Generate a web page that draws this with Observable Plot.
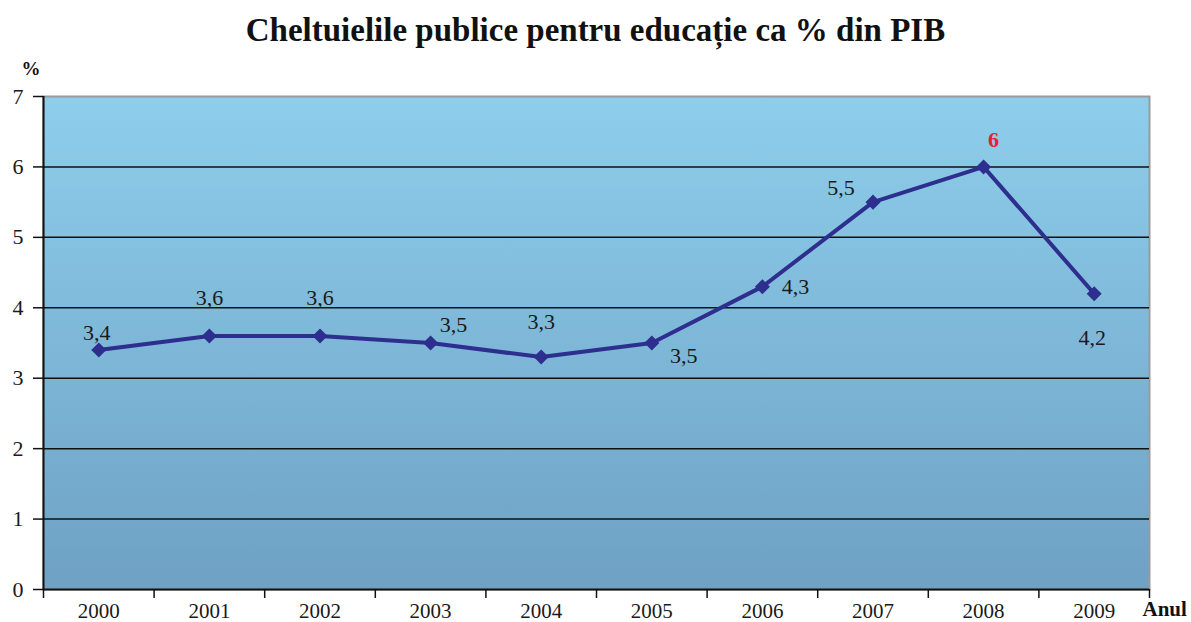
<!DOCTYPE html>
<html>
<head>
<meta charset="utf-8">
<script src="https://cdn.jsdelivr.net/npm/d3@7"></script>
<script src="https://cdn.jsdelivr.net/npm/@observablehq/plot@0.6"></script>
<style>
  html, body { margin: 0; padding: 0; background: #fff; }
  #title { height: 56px; line-height: 60px; text-align: center; font-family: "Liberation Serif", serif; font-weight: bold; font-size: 33px; color: #111; }
</style>
</head>
<body>
<div id="title">Cheltuielile publice pentru educație ca % din PIB</div>
<div id="chart"></div>
<script>
const years = [2000, 2001, 2002, 2003, 2004, 2005, 2006, 2007, 2008, 2009];
const values = [3.4, 3.6, 3.6, 3.5, 3.3, 3.5, 4.3, 5.5, 6.0, 4.2];
const valueLabels = ["3,4", "3,6", "3,6", "3,5", "3,3", "3,5", "4,3", "5,5", "6", "4,2"];
const yTicks = [0, 1, 2, 3, 4, 5, 6, 7];
const gridValues = [1, 2, 3, 4, 5, 6];

const data = years.map((year, i) => ({year, value: values[i], label: valueLabels[i]}));

// label placement (layout, not data)
const labelOffset = {
  2000: [-2, -17], 2001: [0, -38], 2002: [0, -38], 2003: [23, -18], 2004: [0, -35],
  2005: [32, 13], 2006: [33, 0], 2007: [-32, -14], 2008: [10, -27], 2009: [-2, 44]
};
const highlightYear = 2008;

const lineColor = "#2E2E8F";
const fontFamily = "'Liberation Serif', serif";

const xMin = years[0] - 0.5, xMax = years[years.length - 1] + 0.5;
const boundaries = d3.range(years.length + 1).map(i => xMin + i);

const gradientDefs = () => {
  const defs = d3.create("svg:defs");
  const g = defs.append("linearGradient").attr("id", "bgGrad").attr("x1", 0).attr("y1", 0).attr("x2", 0).attr("y2", 1);
  g.append("stop").attr("offset", "0%").attr("stop-color", "#8ECEEB");
  g.append("stop").attr("offset", "100%").attr("stop-color", "#6EA1C4");
  return defs.node();
};

const labelMarks = years.map(y => Plot.text(data.filter(d => d.year === y), {
  x: "year", y: "value", text: "label",
  dx: labelOffset[y][0], dy: labelOffset[y][1],
  fontSize: 22,
  fontWeight: y === highlightYear ? "bold" : "normal",
  fill: y === highlightYear ? "#E8212B" : "#1a1a1a",
  fontFamily
}));

const chart = Plot.plot({
  width: 1191,
  height: 566,
  marginTop: 40,
  marginBottom: 33,
  marginLeft: 43,
  marginRight: 42,
  style: {fontFamily, fontSize: "21px", color: "#1a1a1a", background: "transparent", overflow: "visible"},
  x: {type: "linear", domain: [xMin, xMax], axis: null, label: null},
  y: {domain: [0, 7], axis: null, label: null},
  marks: [
    gradientDefs,
    Plot.frame({fill: "url(#bgGrad)", stroke: "#9a9a9a", strokeWidth: 2}),
    Plot.ruleY(gridValues, {stroke: "#111", strokeWidth: 1.5}),
    Plot.ruleY([0], {stroke: "#111", strokeWidth: 2}),
    Plot.ruleX([xMin], {stroke: "#111", strokeWidth: 2}),
    Plot.axisY({ticks: yTicks, label: null, tickSize: 10, tickPadding: 10, tickFormat: d => String(d), fontSize: 22, stroke: "#111", strokeWidth: 1.5}),
    Plot.axisX({ticks: boundaries, label: null, tickSize: 9, tickFormat: () => "", stroke: "#111", strokeWidth: 1.5}),
    Plot.axisX({ticks: years, label: null, tickSize: 0, tickPadding: 14, tickFormat: d => String(d), fontSize: 21}),
    Plot.lineY(data, {x: "year", y: "value", stroke: lineColor, strokeWidth: 4}),
    Plot.dot(data, {x: "year", y: "value", symbol: "square", r: 6, rotate: 45, fill: lineColor, stroke: "none"}),
    ...labelMarks,
    Plot.text(["Anul"], {frameAnchor: "bottom-right", textAnchor: "start", dx: -7, dy: 26, fontWeight: "bold", fontSize: 21, fill: "#111", fontFamily}),
    Plot.text(["%"], {frameAnchor: "top-left", dx: -22, dy: -35, fontWeight: "bold", fontSize: 19, fill: "#111", fontFamily})
  ]
});
document.getElementById("chart").appendChild(chart);
</script>
</body>
</html>
